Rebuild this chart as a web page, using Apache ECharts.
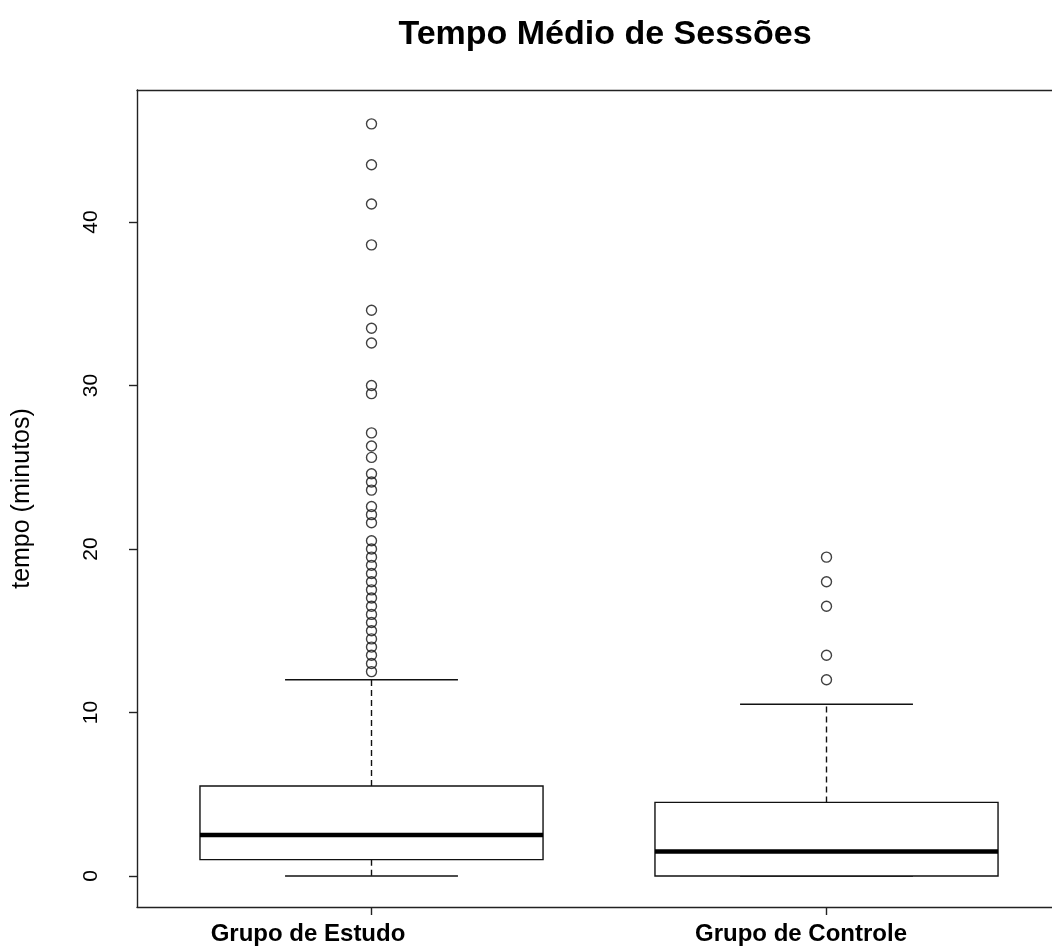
<!DOCTYPE html>
<html>
<head>
<meta charset="utf-8">
<script src="https://cdn.jsdelivr.net/npm/echarts@6/dist/echarts.min.js"></script>
<style>
html,body{margin:0;padding:0;background:#fff;}
#chart{width:1052px;height:951px;}
</style>
</head>
<body>
<div id="chart"></div>
<script>
const categories = ['Grupo de Estudo', 'Grupo de Controle'];
// [lower whisker, Q1, median, Q3, upper whisker]
const statsEstudo = [0, 1, 2.5, 5.5, 12];
const statsControle = [0, 0, 1.5, 4.5, 10.5];
const outliersEstudo = [46, 43.5, 41.1, 38.6, 34.6, 33.5, 32.6, 30, 29.5, 27.1, 26.3, 25.6,
  24.6, 24.1, 23.6, 22.6, 22.1, 21.6,
  20.5, 20, 19.5, 19, 18.5, 18, 17.5, 17, 16.5, 16, 15.5, 15, 14.5, 14, 13.5, 13, 12.5];
const outliersControle = [19.5, 18, 16.5, 13.5, 12];
const yTicks = [0, 10, 20, 30, 40];
const titleText = 'Tempo Médio de Sessões';
const yName = 'tempo (minutos)';

const FONT = "'Liberation Sans', Arial, sans-serif";
const allStats = [statsEstudo, statsControle];
const boxData = allStats.map((s, i) => [i + 1].concat(s));
const outData = [];
outliersEstudo.forEach(v => outData.push([1, v]));
outliersControle.forEach(v => outData.push([2, v]));

const BOX_HW = 0.377;
const CAP_HW = 0.19;
const LW = 1.4;
const X_MIN = 0.4846, X_MAX = 2.4956;
// label axis (category names sit slightly left of the box centres in the reference)
const LX_MIN = 0.6531, LX_MAX = 2.5091;

function renderBox(params, api) {
  const x = api.value(0);
  const lo = api.value(1), q1 = api.value(2), med = api.value(3), q3 = api.value(4), hi = api.value(5);
  const tl = api.coord([x - BOX_HW, q3]);
  const br = api.coord([x + BOX_HW, q1]);
  const mL = api.coord([x - BOX_HW, med]);
  const mR = api.coord([x + BOX_HW, med]);
  const c = api.coord([x, 0]);
  const pHi = api.coord([x, hi]);
  const pLo = api.coord([x, lo]);
  const capL = api.coord([x - CAP_HW, hi]);
  const capR = api.coord([x + CAP_HW, hi]);
  const capL2 = api.coord([x - CAP_HW, lo]);
  const capR2 = api.coord([x + CAP_HW, lo]);
  const stroke = { stroke: '#111', lineWidth: LW, fill: null };
  const dashed = { stroke: '#111', lineWidth: LW, lineDash: [6, 4], fill: null };
  const children = [
    { type: 'line', shape: { x1: c[0], y1: tl[1], x2: c[0], y2: pHi[1] }, style: dashed },
    { type: 'line', shape: { x1: capL[0], y1: capL[1], x2: capR[0], y2: capR[1] }, style: stroke },
    { type: 'line', shape: { x1: c[0], y1: br[1], x2: c[0], y2: pLo[1] }, style: dashed },
    { type: 'line', shape: { x1: capL2[0], y1: capL2[1], x2: capR2[0], y2: capR2[1] }, style: stroke },
    { type: 'rect', shape: { x: tl[0], y: tl[1], width: br[0] - tl[0], height: br[1] - tl[1] }, style: { stroke: '#111', lineWidth: LW, fill: '#fff' } },
    { type: 'line', shape: { x1: mL[0], y1: mL[1], x2: mR[0], y2: mR[1] }, style: { stroke: '#000', lineWidth: 4.5 } }
  ];
  return { type: 'group', children: children };
}

const lineStyle = { color: '#222', width: LW };
const chart = echarts.init(document.getElementById('chart'), null, { renderer: 'canvas' });
chart.setOption({
  backgroundColor: '#fff',
  animation: false,
  title: {
    text: titleText,
    left: 600,
    top: 13,
    textAlign: 'center',
    textStyle: { fontFamily: FONT, fontWeight: 'bold', fontSize: 34, color: '#000' }
  },
  grid: { left: 137, top: 90, right: 0, bottom: 44, show: false },
  xAxis: [{
    type: 'value', min: X_MIN, max: X_MAX, position: 'bottom',
    axisLine: { show: true, onZero: false, lineStyle: lineStyle },
    splitLine: { show: false },
    axisTick: { show: true, customValues: [1, 2], length: 8, lineStyle: lineStyle },
    axisLabel: { show: false }
  }, {
    type: 'value', min: X_MIN, max: X_MAX, position: 'top',
    axisLine: { show: true, onZero: false, lineStyle: lineStyle },
    splitLine: { show: false }, axisTick: { show: false }, axisLabel: { show: false }
  }, {
    type: 'value', min: LX_MIN, max: LX_MAX, position: 'bottom',
    axisLine: { show: false }, splitLine: { show: false }, axisTick: { show: false },
    axisLabel: {
      show: true, customValues: [1, 2], margin: 15,
      formatter: v => categories[Math.round(v) - 1] || '',
      fontFamily: FONT, fontWeight: 'bold', fontSize: 24, color: '#000'
    }
  }],
  yAxis: {
    type: 'value', min: -1.896, max: 48.07,
    name: yName, nameLocation: 'middle', nameRotate: 90, nameGap: 102,
    nameTextStyle: { fontFamily: FONT, fontSize: 25, color: '#000' },
    axisLine: { show: true, onZero: false, lineStyle: lineStyle },
    splitLine: { show: false },
    axisTick: { show: true, customValues: yTicks, length: 8, lineStyle: lineStyle },
    axisLabel: {
      show: true, customValues: yTicks, rotate: 90, margin: 35,
      fontFamily: FONT, fontSize: 21, color: '#000'
    }
  },
  series: [
    {
      type: 'custom',
      renderItem: renderBox,
      data: boxData,
      encode: { x: 0, y: [1, 2, 3, 4, 5] },
      z: 2
    },
    {
      type: 'scatter',
      data: outData,
      symbol: 'circle',
      symbolSize: 10,
      itemStyle: { color: 'rgba(0,0,0,0)', borderColor: '#111', borderWidth: 1.4 },
      z: 3
    }
  ]
});
</script>
</body>
</html>
